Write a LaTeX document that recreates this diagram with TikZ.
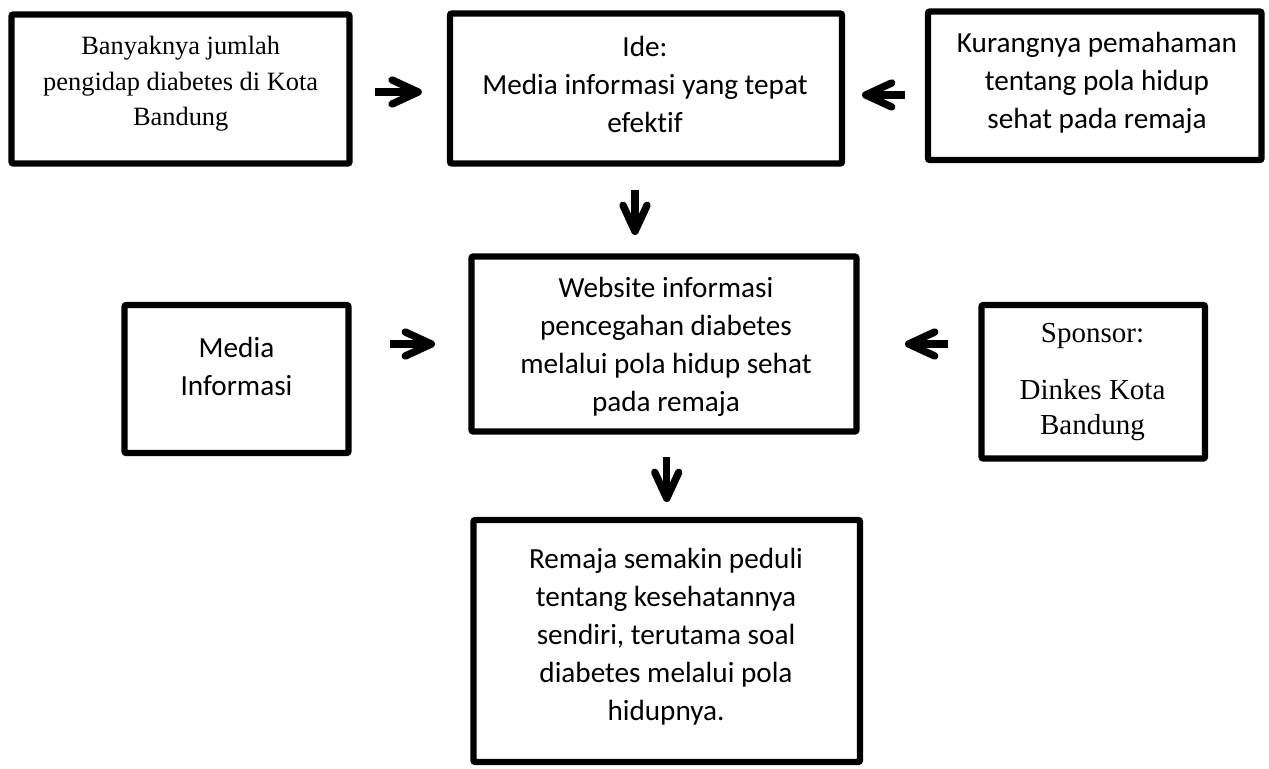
\documentclass[tikz,border=0pt]{standalone}
\usepackage{fontspec}
\setmainfont{Carlito}[Ligatures={NoCommon}]
\newfontfamily\tnrfont{Liberation Serif}
\usetikzlibrary{arrows.meta}

\tikzset{
	box/.style={draw, line width=3.2pt, rounded corners=1pt, inner sep=0pt},
	sanstext/.style={align=center, inner sep=0pt, font=\fontsize{14.6}{19}\selectfont},
	seriftext/.style={align=center, inner sep=0pt, font=\tnrfont\fontsize{13.2}{17.75}\selectfont},
	arr/.style={line width=3.7pt, -{Straight Barb[length=13pt, width=12pt, round]}}
}

\begin{document}
\begin{tikzpicture}[x=0.5pt, y=-0.5pt]
	\useasboundingbox (0,0) rectangle (1269,768);
	% top row
	\node[box, minimum width=169pt, minimum height=74.5pt] (banyak) at (180.5, 89) {};
	\node[seriftext] (banyakText) at (180.7, 84) {Banyaknya jumlah\\pengidap diabetes di Kota\\Bandung};
	\node[box, minimum width=196pt, minimum height=75pt] (ide) at (646, 88.5) {};
	\node[sanstext] (ideText) at (645, 84) {Ide:\\Media informasi yang tepat\\efektif};
	\node[box, minimum width=166.75pt, minimum height=74.25pt] (kurang) at (1094.75, 85.75) {};
	\node[sanstext] (kurangText) at (1097, 83) {Kurangnya pemahaman\\tentang pola hidup\\sehat pada remaja};
	% middle row
	\node[box, minimum width=192.5pt, minimum height=87.5pt] (web) at (664, 344) {};
	\node[sanstext] (webText) at (666, 347) {Website informasi\\pencegahan diabetes\\melalui pola hidup sehat\\pada remaja};
	\node[box, minimum width=112pt, minimum height=74pt] (media) at (236.5, 379) {};
	\node[sanstext] (mediaText) at (236.5, 366) {Media\\Informasi};
	\node[box, minimum width=111.75pt, minimum height=76.75pt] (sponsor) at (1093.25, 381.75) {};
	\node[seriftext, font=\tnrfont\fontsize{14.5}{17.5}\selectfont] (sponsorText) at (1092.5, 382.5) {Sponsor:\\[11pt]Dinkes Kota\\Bandung};
	% bottom
	\node[box, minimum width=193.25pt, minimum height=121pt] (remaja) at (666.75, 641) {};
	\node[sanstext] (remajaText) at (666, 637) {Remaja semakin peduli\\tentang kesehatannya\\sendiri, terutama soal\\diabetes melalui pola\\hidupnya.};
	% arrows
	\draw[arr, shorten <=11pt, shorten >=12.5pt] ([yshift=-1.5pt]banyak.east) -- ([yshift=-1.5pt]banyak.east -| ide.west);
	\draw[arr, shorten <=10pt, shorten >=8.4pt] ([yshift=-4.6pt]kurang.west) -- ([yshift=-4.6pt]kurang.west -| ide.east);
	\draw[arr, shorten <=11.65pt, shorten >=9.15pt] ([xshift=-5.5pt]ide.south) -- ([xshift=-5.5pt]ide.south |- web.north);
	\draw[arr, shorten <=19.15pt, shorten >=16.65pt] (media.east |- web.west) -- (web.west);
	\draw[arr, shorten <=15.15pt, shorten >=22.65pt] (sponsor.west |- web.east) -- (web.east);
	\draw[arr, shorten <=11.15pt, shorten >=7.4pt] (web.south -| remaja.north) -- (remaja.north);
\end{tikzpicture}
\end{document}
